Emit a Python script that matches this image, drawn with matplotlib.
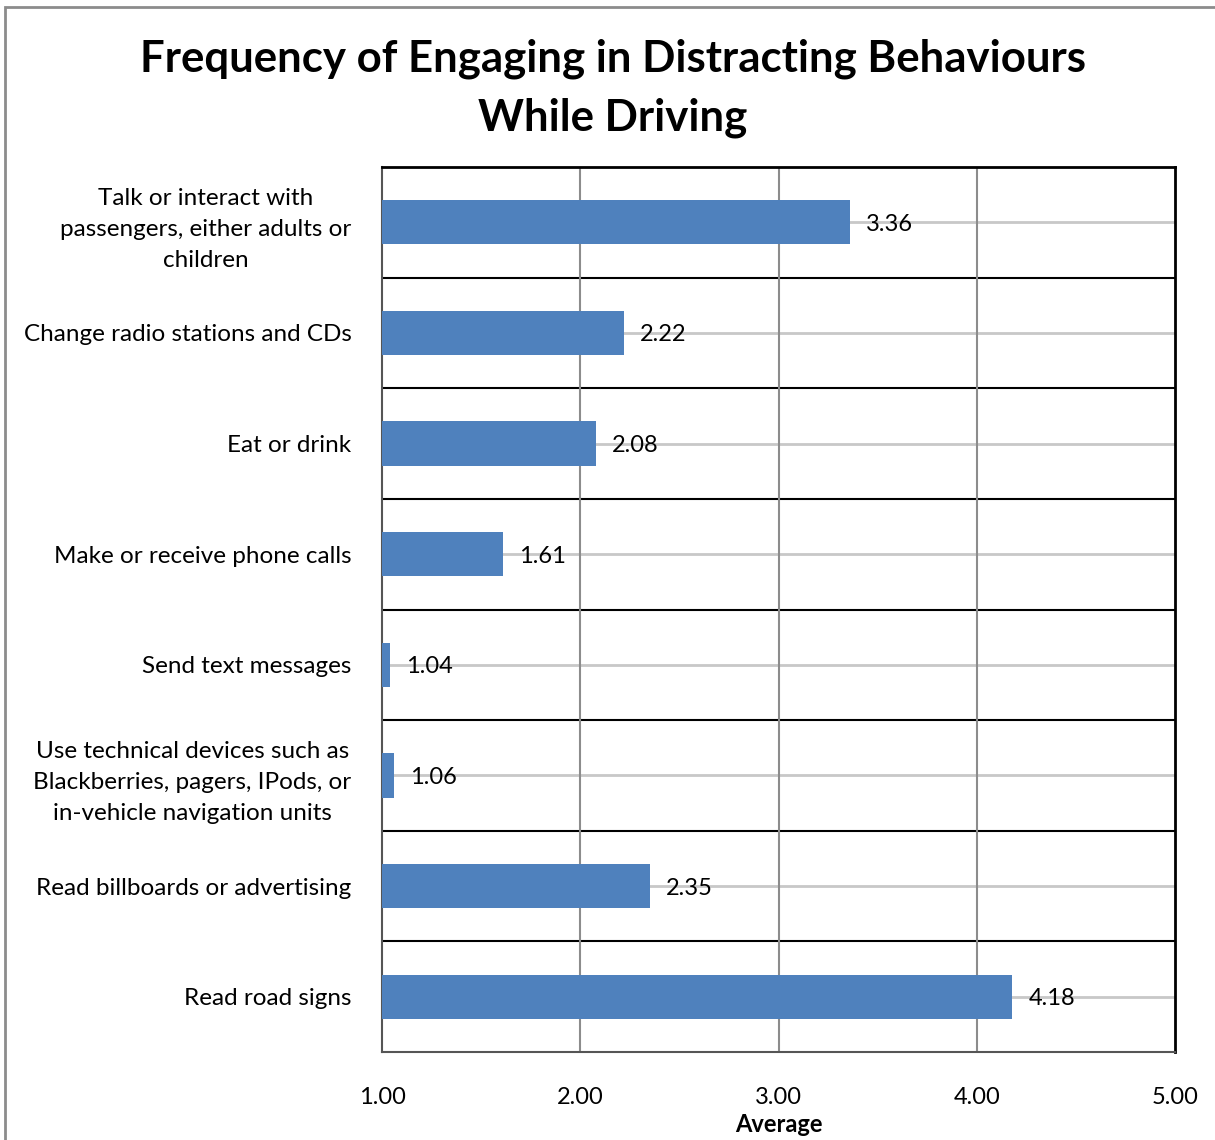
import numpy as np
import matplotlib.pyplot as plt
from matplotlib.patches import Rectangle

plt.rcParams['font.family'] = ['Lato', 'DejaVu Sans']

behaviours = [
    'Talk or interact with\npassengers, either adults or\nchildren',
    'Change radio stations and CDs',
    'Eat or drink',
    'Make or receive phone calls',
    'Send text messages',
    'Use technical devices such as\nBlackberries, pagers, IPods, or\nin-vehicle navigation units',
    'Read billboards or advertising',
    'Read road signs',
]
averages = [3.36, 2.22, 2.08, 1.61, 1.04, 1.06, 2.35, 4.18]
x_ticks = [1.0, 2.0, 3.0, 4.0, 5.0]

BAR = '#4f81bd'

fig = plt.figure(figsize=(12.15, 11.4), dpi=100)
ax = fig.add_axes([382 / 1215, 1 - 1052 / 1140, (1175 - 382) / 1215, (1052 - 167) / 1140])

# outer chart frame (only left/top visible)
fig.patches.append(Rectangle((5 / 1215, -0.1), 1.2, 1 - 7 / 1140 + 0.1,
                             transform=fig.transFigure, fill=False,
                             edgecolor='#8c8c8c', lw=2, zorder=0))

y = np.arange(len(behaviours))
left = x_ticks[0]
widths = [v - left for v in averages]

# light reference lines through each category centre
for yi in y:
    ax.plot([left, x_ticks[-1]], [yi, yi], color='#c8c8c8', lw=2, zorder=1)
# dark separators between categories
for yi in y[:-1]:
    ax.axhline(yi + 0.5, color='black', lw=1.5, zorder=1)
for xv in x_ticks[1:-1]:
    ax.axvline(xv, color='#8c8c8c', lw=1.5, zorder=1)

ax.barh(y, widths, left=left, height=0.4, color=BAR, zorder=3)
for yi, v in zip(y, averages):
    ax.text(v + 0.08, yi, f'{v:.2f}', va='center_baseline', ha='left', fontsize=17, zorder=4)

ax.set_xlim(x_ticks[0], x_ticks[-1])
ax.set_ylim(len(behaviours) - 0.5, -0.5)
ax.set_xticks(x_ticks)
ax.set_xticklabels([f'{t:.2f}' for t in x_ticks], fontsize=17)
ax.set_yticks(y)
ax.set_yticklabels(behaviours, fontsize=17.5, multialignment='center', linespacing=1.6)
ax.tick_params(axis='both', length=0)
ax.tick_params(axis='x', pad=25)
ax.tick_params(axis='y', pad=22)
ax.set_xlabel('Average', fontsize=17, fontweight='bold', labelpad=4)

for side in ['top', 'right']:
    ax.spines[side].set_color('black')
    ax.spines[side].set_linewidth(2)
for side in ['left', 'bottom']:
    ax.spines[side].set_color('#555555')
    ax.spines[side].set_linewidth(1.5)

fig.text(613 / 1215, 1 - 88 / 1140,
         'Frequency of Engaging in Distracting Behaviours\nWhile Driving',
         ha='center', va='center', fontsize=31.5, fontweight='bold', linespacing=1.55)

fig.savefig('out.png', dpi=100)
